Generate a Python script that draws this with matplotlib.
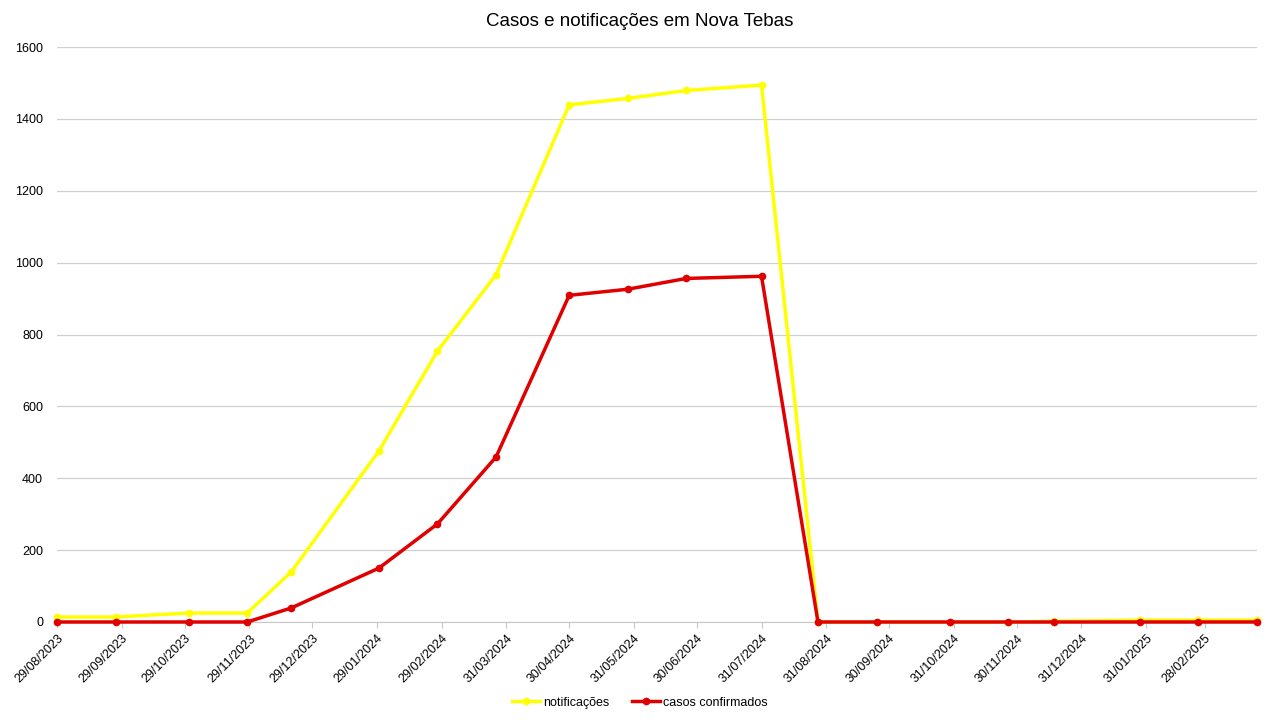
import matplotlib
matplotlib.use("Agg")
import matplotlib.pyplot as plt
import matplotlib.dates as mdates
import pandas as pd

# data
datas = ["2023-08-29", "2023-09-26", "2023-10-31", "2023-11-28", "2023-12-19",
         "2024-01-30", "2024-02-27", "2024-03-26", "2024-04-30", "2024-05-28",
         "2024-06-25", "2024-07-31", "2024-08-27", "2024-09-24", "2024-10-29",
         "2024-11-26", "2024-12-18", "2025-01-28", "2025-02-25", "2025-03-25"]
notificacoes = [14, 14, 25, 25, 139, 476, 754, 966, 1439, 1457,
                1479, 1494, 0, 0, 0, 0, 2, 5, 5, 5]
casos_confirmados = [0, 0, 0, 0, 39, 150, 273, 459, 909, 926,
                     956, 962, 0, 0, 0, 0, 0, 0, 0, 0]
tick_datas = ["2023-08-29", "2023-09-29", "2023-10-29", "2023-11-29", "2023-12-29",
              "2024-01-29", "2024-02-29", "2024-03-31", "2024-04-30", "2024-05-31",
              "2024-06-30", "2024-07-31", "2024-08-31", "2024-09-30", "2024-10-31",
              "2024-11-30", "2024-12-31", "2025-01-31", "2025-02-28"]
y_ticks = [0, 200, 400, 600, 800, 1000, 1200, 1400, 1600]

x = pd.to_datetime(datas)
ticks = pd.to_datetime(tick_datas)

plt.rcParams['font.family'] = ['Liberation Sans', 'DejaVu Sans']

fig = plt.figure(figsize=(12.8, 7.2), dpi=100)
ax = fig.add_axes([57 / 1280, 1 - 622 / 720, 1200 / 1280, 575 / 720])

ax.plot(x, notificacoes, color="#ffff00", lw=2.5, marker="o", ms=4.5,
        label="notificações", zorder=3, clip_on=False)
ax.plot(x, casos_confirmados, color="#e00000", lw=2.5, marker="o", ms=4.5,
        label="casos confirmados", zorder=4, clip_on=False)

ax.set_xlim(x[0], x[-1])
ax.set_ylim(0, 1600)
ax.set_yticks(y_ticks)
ax.set_xticks(ticks)
ax.xaxis.set_major_formatter(mdates.DateFormatter("%d/%m/%Y"))
plt.setp(ax.get_xticklabels(), rotation=45, ha="right", rotation_mode="anchor")

ax.grid(axis="y", color="#d0d0d0", lw=0.9)
ax.set_axisbelow(True)
for s in ["top", "right", "left"]:
    ax.spines[s].set_visible(False)
ax.spines["bottom"].set_color("#c8c8c8")
ax.tick_params(axis="y", length=0, labelsize=9, pad=10)
ax.tick_params(axis="x", length=4, color="#c8c8c8", labelsize=9)

fig.text(0.5, 1 - 21 / 720, "Casos e notificações em Nova Tebas", fontsize=13.5,
         ha="center", va="center")

fig.legend(loc="lower center", bbox_to_anchor=(0.5, 0.0), ncol=2, frameon=False,
           fontsize=9, handlelength=2.2, handletextpad=0.3, columnspacing=1.8)

fig.savefig("out.png", dpi=100)
